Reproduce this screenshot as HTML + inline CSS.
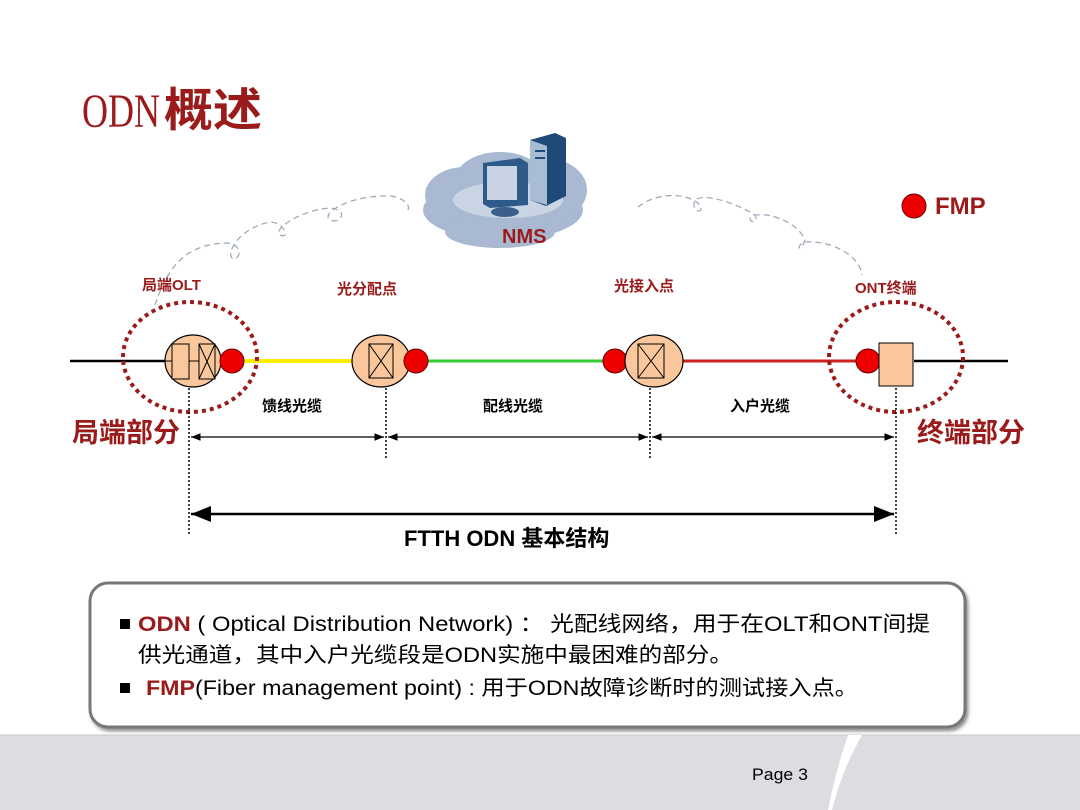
<!DOCTYPE html>
<html><head><meta charset="utf-8"><style>
html,body{margin:0;padding:0;background:#fff;}
svg{display:block;}
</style></head><body>
<svg width="1080" height="810" viewBox="0 0 1080 810" xmlns="http://www.w3.org/2000/svg" font-family="'Liberation Sans','Noto Sans CJK SC',sans-serif">
<defs>
<marker id="a" viewBox="0 0 10 10" refX="10" refY="5" markerWidth="8" markerHeight="8" orient="auto-start-reverse"><path d="M0,1 L10,5 L0,9 z" fill="#000"/></marker>
<filter id="sh" x="-5%" y="-5%" width="110%" height="120%"><feDropShadow dx="2" dy="3" stdDeviation="1.5" flood-color="#666" flood-opacity="0.7"/></filter>
</defs>
<!-- title -->
<text x="82" y="127" font-family="'Liberation Serif',serif" font-size="48" fill="#9b1b1b" textLength="78" lengthAdjust="spacingAndGlyphs">ODN</text>
<text x="164" y="126" font-family="'Noto Sans CJK SC',sans-serif" font-weight="bold" font-size="46" fill="#9b1b1b" textLength="98" lengthAdjust="spacingAndGlyphs">概述</text>

<!-- cloud -->
<g fill="#a9b9d2">
<ellipse cx="503" cy="210" rx="80" ry="30"/>
<ellipse cx="465" cy="195" rx="40" ry="28"/>
<ellipse cx="545" cy="190" rx="42" ry="32"/>
<ellipse cx="500" cy="180" rx="45" ry="28"/>
<ellipse cx="500" cy="232" rx="55" ry="16"/>
</g>
<ellipse cx="508" cy="200" rx="55" ry="18" fill="#c9d4e4"/>
<!-- monitor -->
<path d="M483,163 L520,158 L528,163 L528,205 L490,208 L483,204z" fill="#2e5a8a"/>
<rect x="487" y="166" width="30" height="34" fill="#c8d4e4"/>
<ellipse cx="505" cy="212" rx="14" ry="5" fill="#3a5f8a"/>
<!-- server -->
<path d="M530,140 L555,133 L566,138 L566,196 L546,206 L530,200z" fill="#1f4a78"/>
<path d="M530,140 L547,146 L547,205 L530,200z" fill="#a8bcd4"/>
<rect x="535" y="150" width="10" height="2" fill="#1f4a78"/><rect x="535" y="157" width="10" height="2" fill="#1f4a78"/>
<text x="502" y="243" font-size="20" font-weight="bold" fill="#9b1b1b">NMS</text>

<!-- dashed management links -->
<g fill="none" stroke="#9aa6b4" stroke-width="1.2" stroke-dasharray="6,4">
<path d="M155,305 C170,260 190,245 225,243 C245,243 240,262 232,258 C226,252 240,228 270,222 C285,222 290,240 280,235 C272,230 300,210 330,208 C350,210 340,225 330,220 C320,213 350,195 390,196 C405,198 410,205 408,210"/>
<path d="M638,207 C660,190 690,194 700,205 C705,215 690,212 695,200 C705,192 740,205 755,215 C760,225 745,222 752,216 C770,210 800,225 805,240 C800,255 795,245 805,242 C830,240 860,255 862,275"/>
</g>

<!-- FMP legend -->
<circle cx="914" cy="206" r="12" fill="#e00" stroke="#600" stroke-width="1"/>
<text x="935" y="214" font-size="24" font-weight="bold" fill="#9b1b1b">FMP</text>

<!-- labels top -->
<g font-size="15" font-weight="bold" fill="#9b1b1b">
<text x="142" y="290">局端OLT</text>
<text x="337" y="294">光分配点</text>
<text x="614" y="291">光接入点</text>
<text x="855" y="293">ONT终端</text>
</g>

<!-- main line -->
<line x1="70" y1="361" x2="165" y2="361" stroke="#000" stroke-width="2.5"/>
<line x1="244" y1="361" x2="352" y2="361" stroke="#ffee00" stroke-width="4"/>
<line x1="428" y1="361" x2="606" y2="361" stroke="#33cc33" stroke-width="3"/>
<line x1="683" y1="361" x2="862" y2="361" stroke="#cc2222" stroke-width="3"/>
<line x1="914" y1="361" x2="1008" y2="361" stroke="#000" stroke-width="2.5"/>

<!-- OLT -->
<ellipse cx="193" cy="361" rx="28" ry="26" fill="#f9c79b" stroke="#000" stroke-width="1.2"/>
<rect x="172" y="344" width="17" height="35" fill="#f9c79b" stroke="#000"/>
<line x1="165" y1="361" x2="172" y2="361" stroke="#000"/>
<line x1="189" y1="361" x2="199" y2="361" stroke="#000"/>
<rect x="199" y="344" width="16" height="35" fill="#f9c79b" stroke="#000"/>
<path d="M199,344 L215,379 M215,344 L199,379" stroke="#000"/>
<circle cx="232" cy="361" r="12" fill="#e00" stroke="#600"/>

<!-- splitter -->
<ellipse cx="381" cy="361" rx="29" ry="26" fill="#f9c79b" stroke="#000" stroke-width="1.2"/>
<rect x="369" y="344" width="24" height="34" fill="none" stroke="#000"/>
<path d="M369,344 L393,378 M393,344 L369,378" stroke="#000"/>
<circle cx="416" cy="361" r="12" fill="#e00" stroke="#600"/>

<!-- access point -->
<circle cx="615" cy="361" r="12" fill="#e00" stroke="#600"/>
<ellipse cx="654" cy="361" rx="29" ry="26" fill="#f9c79b" stroke="#000" stroke-width="1.2"/>
<rect x="638" y="344" width="26" height="34" fill="none" stroke="#000"/>
<path d="M638,344 L664,378 M664,344 L638,378" stroke="#000"/>

<!-- ONT -->
<circle cx="868" cy="361" r="12" fill="#e00" stroke="#600"/>
<rect x="879" y="343" width="34" height="43" fill="#f9c79b" stroke="#000"/>

<!-- dashed circles -->
<ellipse cx="190" cy="357" rx="67" ry="55" fill="none" stroke="#9b1b1b" stroke-width="4" stroke-dasharray="4,4"/>
<ellipse cx="896" cy="357" rx="67" ry="55" fill="none" stroke="#9b1b1b" stroke-width="4" stroke-dasharray="4,4"/>

<!-- verticals -->
<g stroke="#000" stroke-width="1.5" stroke-dasharray="2,2">
<line x1="189" y1="388" x2="189" y2="535"/>
<line x1="386" y1="388" x2="386" y2="460"/>
<line x1="650" y1="388" x2="650" y2="460"/>
<line x1="896" y1="388" x2="896" y2="535"/>
</g>
<!-- arrows -->
<g stroke="#000" stroke-width="1.2" marker-start="url(#a)" marker-end="url(#a)">
<line x1="191" y1="437" x2="384" y2="437"/>
<line x1="388" y1="437" x2="648" y2="437"/>
<line x1="652" y1="437" x2="894" y2="437"/>
</g>
<line x1="191" y1="514" x2="894" y2="514" stroke="#000" stroke-width="2.5" marker-start="url(#a)" marker-end="url(#a)"/>

<g font-size="15" font-weight="bold" fill="#000">
<text x="262" y="411">馈线光缆</text>
<text x="483" y="411">配线光缆</text>
<text x="730" y="411">入户光缆</text>
</g>
<text x="72" y="442" font-size="27" font-weight="bold" fill="#9b1b1b">局端部分</text>
<text x="917" y="442" font-size="27" font-weight="bold" fill="#9b1b1b">终端部分</text>
<text x="404" y="546" font-size="22" font-weight="bold" fill="#000">FTTH ODN 基本结构</text>

<!-- text box -->
<rect x="90" y="583" width="875" height="144" rx="18" fill="#fff" stroke="#777" stroke-width="3" filter="url(#sh)"/>
<rect x="120" y="619" width="10" height="10" fill="#000"/>
<text x="138" y="631" font-size="21" fill="#000" textLength="792" lengthAdjust="spacingAndGlyphs"><tspan fill="#9b1b1b" font-weight="bold">ODN</tspan> ( Optical Distribution Network) ： 光配线网络，用于在OLT和ONT间提</text>
<text x="138" y="662" font-size="21" fill="#000" textLength="595" lengthAdjust="spacingAndGlyphs">供光通道，其中入户光缆段是ODN实施中最困难的部分。</text>
<rect x="120" y="683" width="10" height="10" fill="#000"/>
<text x="146" y="695" font-size="21" fill="#000" textLength="712" lengthAdjust="spacingAndGlyphs"><tspan fill="#9b1b1b" font-weight="bold">FMP</tspan>(Fiber management point) : 用于ODN故障诊断时的测试接入点。</text>

<!-- footer -->
<rect x="0" y="735" width="1080" height="75" fill="#dcdde0"/>
<line x1="0" y1="735" x2="1080" y2="735" stroke="#c8c9cc" stroke-width="1"/>
<path d="M848,735 L862,735 Q842,770 832,810 L828,810 Q836,770 848,735z" fill="#fff"/>
<text x="752" y="780" font-size="17" fill="#000" textLength="56" lengthAdjust="spacingAndGlyphs">Page 3</text>
</svg>
</body></html>
